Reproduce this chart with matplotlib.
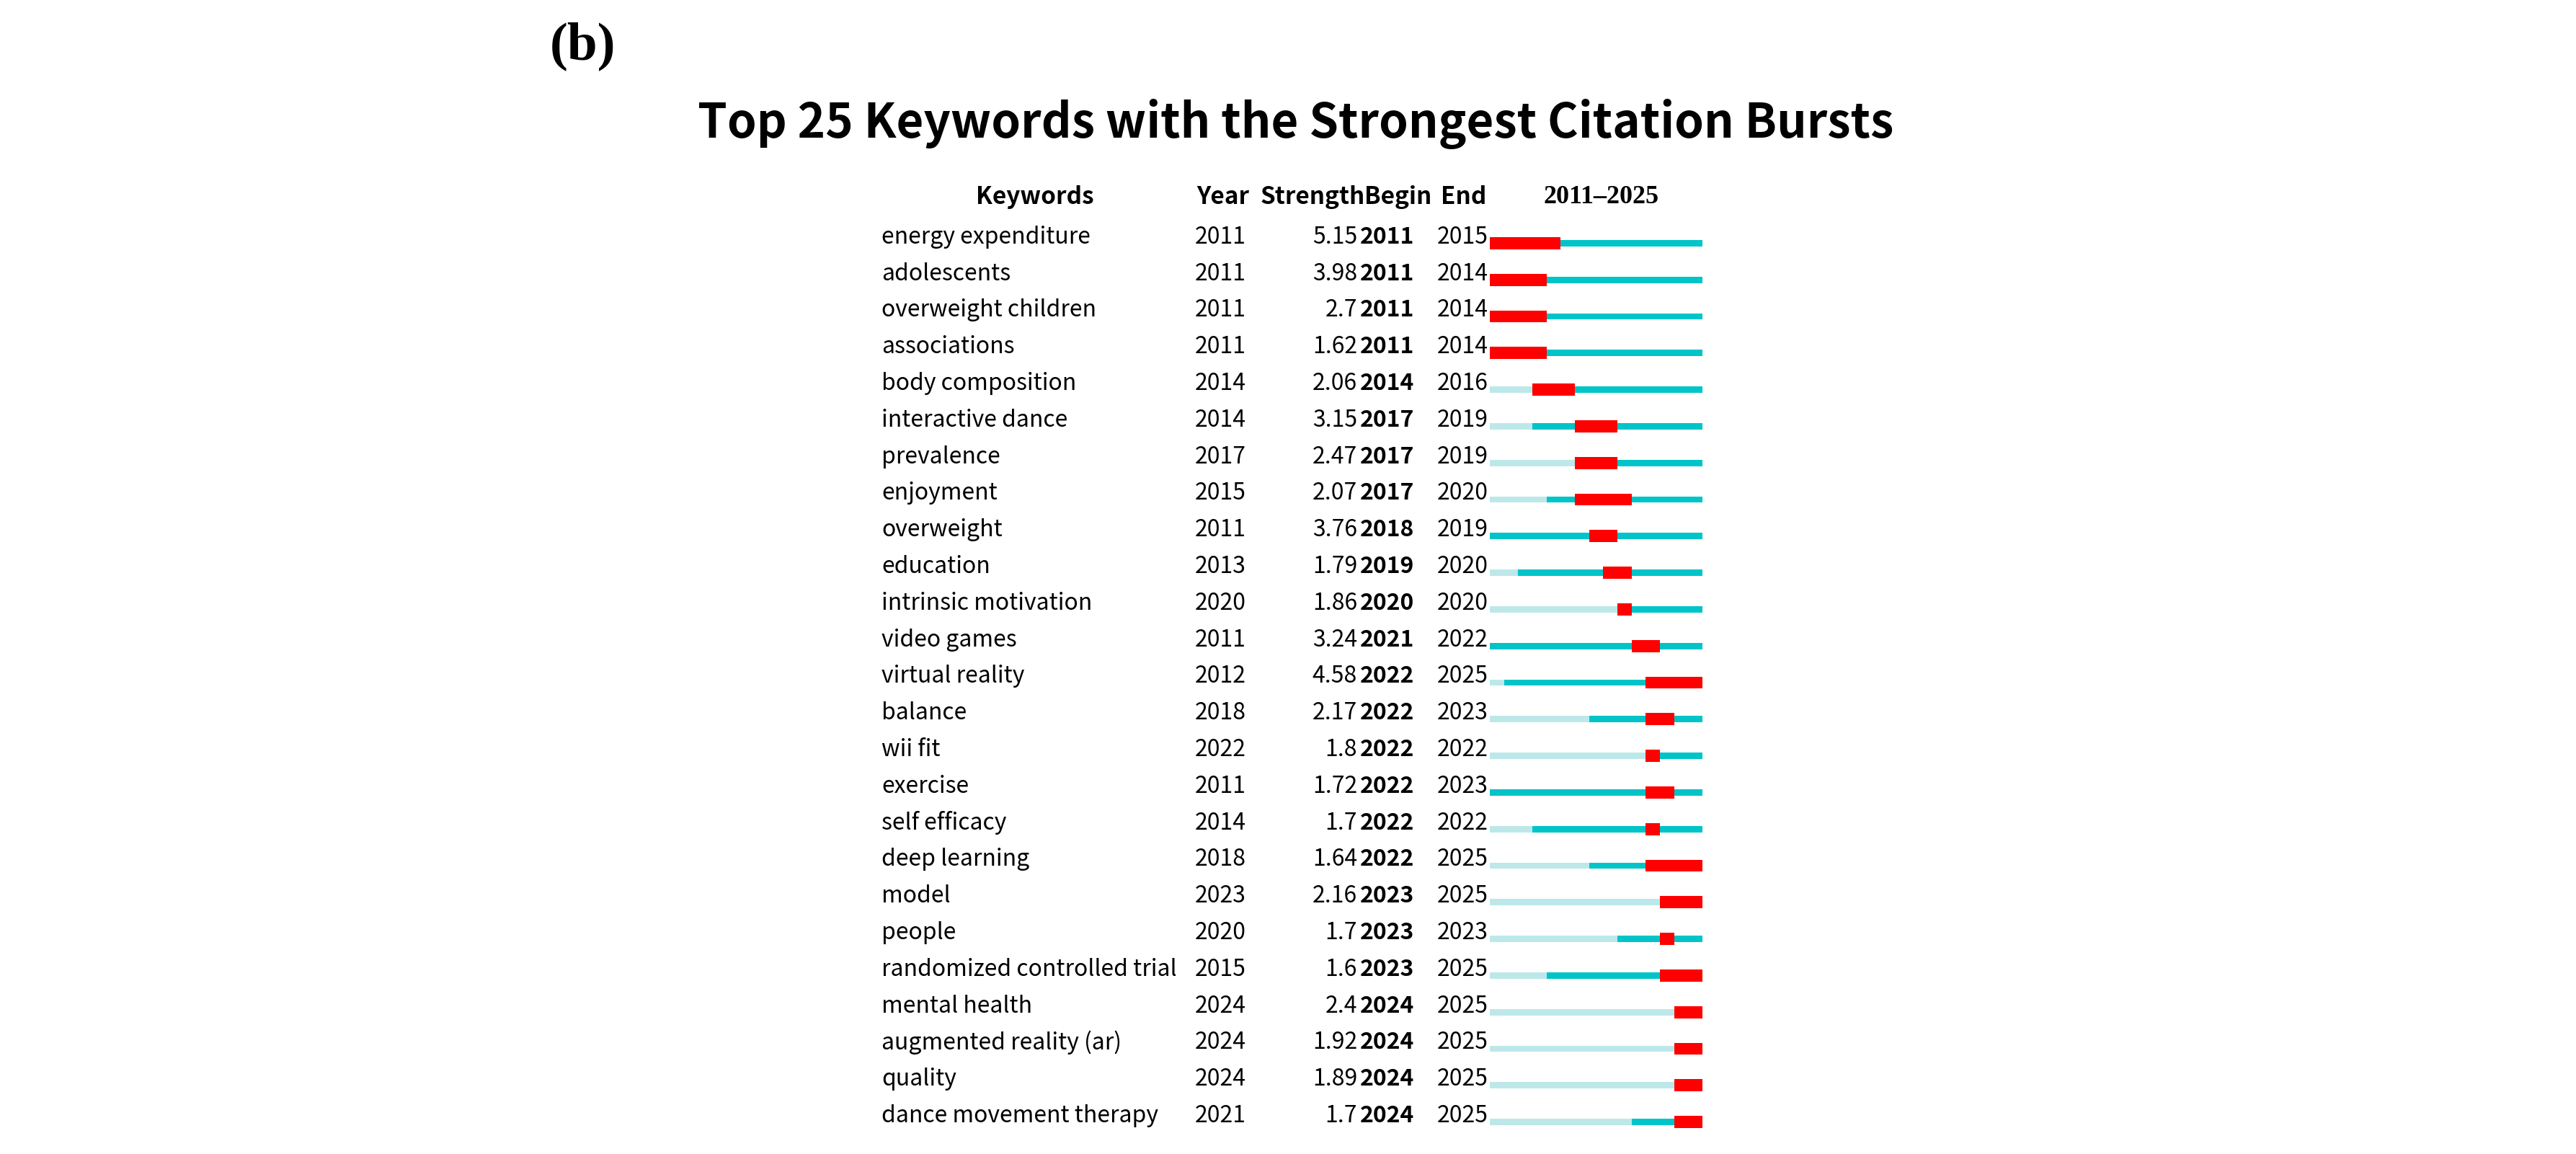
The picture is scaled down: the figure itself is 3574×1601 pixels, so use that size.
import matplotlib.pyplot as plt
import matplotlib.transforms as mtransforms

# data
keywords = ["energy expenditure", "adolescents", "overweight children", "associations",
            "body composition", "interactive dance", "prevalence", "enjoyment", "overweight",
            "education", "intrinsic motivation", "video games", "virtual reality", "balance",
            "wii fit", "exercise", "self efficacy", "deep learning", "model", "people",
            "randomized controlled trial", "mental health", "augmented reality (ar)",
            "quality", "dance movement therapy"]
years = [2011, 2011, 2011, 2011, 2014, 2014, 2017, 2015, 2011, 2013, 2020, 2011, 2012,
         2018, 2022, 2011, 2014, 2018, 2023, 2020, 2015, 2024, 2024, 2024, 2021]
strengths = ["5.15", "3.98", "2.7", "1.62", "2.06", "3.15", "2.47", "2.07", "3.76", "1.79",
             "1.86", "3.24", "4.58", "2.17", "1.8", "1.72", "1.7", "1.64", "2.16", "1.7",
             "1.6", "2.4", "1.92", "1.89", "1.7"]
begins = [2011, 2011, 2011, 2011, 2014, 2017, 2017, 2017, 2018, 2019, 2020, 2021, 2022,
          2022, 2022, 2022, 2022, 2022, 2023, 2023, 2023, 2024, 2024, 2024, 2024]
ends = [2015, 2014, 2014, 2014, 2016, 2019, 2019, 2020, 2019, 2020, 2020, 2022, 2025,
        2023, 2022, 2023, 2022, 2025, 2025, 2023, 2025, 2025, 2025, 2025, 2025]
start_year, end_year = 2011, 2025

W, H = 3574, 1601
fig = plt.figure(figsize=(W / 100, H / 100), dpi=100)
plt.rcParams['font.family'] = ['Noto Sans CJK SC', 'DejaVu Sans']

n = len(keywords)
# bar axes: x in years, y in rows
ax = fig.add_axes([2067 / W, 1 - 1582 / H, (2362 - 2067) / W, 1270 / H])
ax.set_xlim(start_year, end_year + 1)
ax.set_ylim(n - 0.5, -0.5)
ax.axis("off")

red, teal, pale = "#FF0000", "#00C4C8", "#BDE8EA"
for i in range(n):
    ax.barh(i, years[i] - start_year, left=start_year, height=0.17, color=pale)
    ax.barh(i, end_year + 1 - years[i], left=years[i], height=0.17, color=teal)
    ax.barh(i, ends[i] + 1 - begins[i], left=begins[i], height=0.33, color=red)

tr = mtransforms.blended_transform_factory(fig.transFigure, ax.transData)
fs = 23
for i in range(n):
    y = i - 0.17
    ax.text(1223 / W, y, keywords[i], transform=tr, fontsize=fs, va="center", ha="left")
    ax.text(1658 / W, y, str(years[i]), transform=tr, fontsize=fs, va="center", ha="left")
    ax.text(1883 / W, y, strengths[i], transform=tr, fontsize=fs, va="center", ha="right")
    ax.text(1887 / W, y, str(begins[i]), transform=tr, fontsize=fs, va="center", ha="left",
            fontweight="bold")
    ax.text(1994 / W, y, str(ends[i]), transform=tr, fontsize=fs, va="center", ha="left")

hy = -1.25
hfs = 24
ax.text(1436 / W, hy, "Keywords", transform=tr, fontsize=hfs, va="center", ha="center", fontweight="bold")
ax.text(1697 / W, hy, "Year", transform=tr, fontsize=hfs, va="center", ha="center", fontweight="bold")
ax.text(1821 / W, hy, "Strength", transform=tr, fontsize=hfs, va="center", ha="center", fontweight="bold")
ax.text(1940 / W, hy, "Begin", transform=tr, fontsize=hfs, va="center", ha="center", fontweight="bold")
ax.text(2031 / W, hy, "End", transform=tr, fontsize=hfs, va="center", ha="center", fontweight="bold")
ax.text(2222 / W, hy, f"{start_year}\u2013{end_year}", transform=tr, fontsize=26,
        va="center", ha="center", fontweight="bold", family="Liberation Serif")

fig.text(1798 / W, 1 - 172 / H, "Top 25 Keywords with the Strongest Citation Bursts",
         fontsize=47, fontweight="bold", ha="center", va="center")
fig.text(808 / W, 1 - 64 / H, "(b)", fontsize=54, fontweight="bold", ha="center", va="center",
         family="Liberation Serif")

fig.savefig("out.png", dpi=100)
